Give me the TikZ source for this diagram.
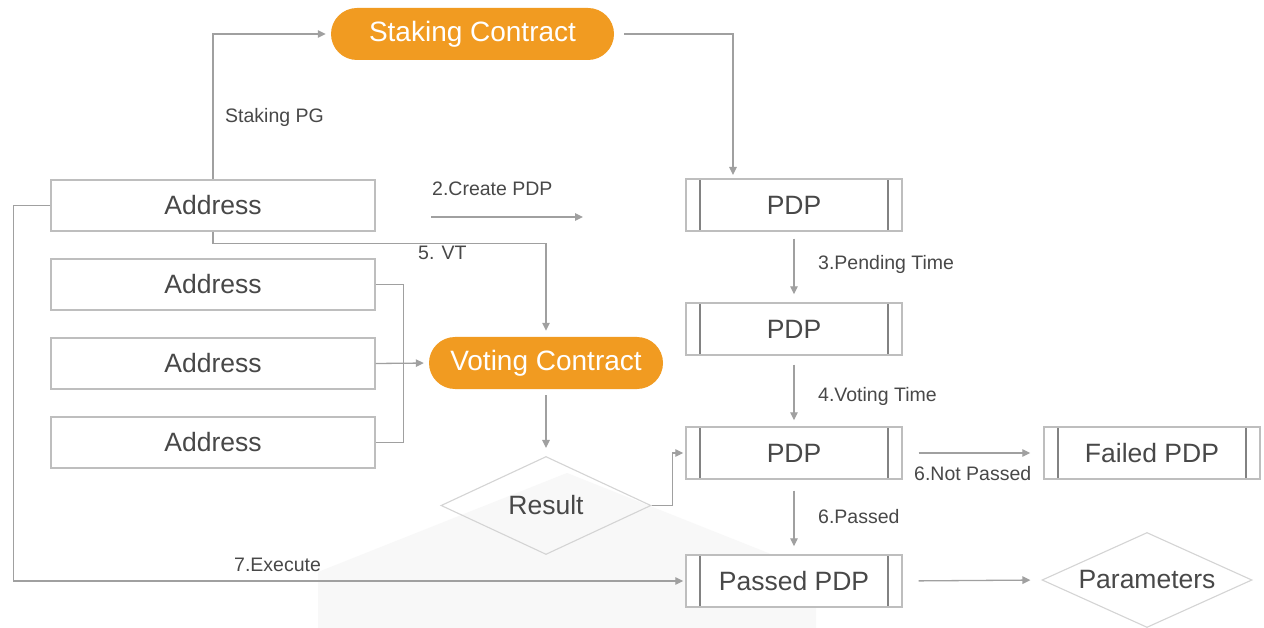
\documentclass[tikz,border=0pt]{standalone}
\usepackage{fontspec}
\setmainfont{Liberation Sans}
\usetikzlibrary{arrows.meta,shapes.geometric}
\definecolor{orng}{RGB}{241,155,33}
\definecolor{txt}{RGB}{72,72,72}
\definecolor{boxgray}{RGB}{190,190,190}
\definecolor{innergray}{RGB}{130,130,130}
\definecolor{linegray}{RGB}{160,160,160}
\definecolor{diagray}{RGB}{212,212,212}
\definecolor{bghex}{RGB}{248,248,248}
\newcommand{\bigfont}{\fontsize{26.5}{31}\selectfont}
\newcommand{\pillfont}{\fontsize{28}{33}\selectfont}
\newcommand{\smallfont}{\fontsize{19.5}{23}\selectfont}
\tikzset{
  addr/.style={draw=boxgray, fill=white, line width=1.4pt, minimum width=324pt, minimum height=51pt, inner sep=0pt, font=\bigfont, text=txt},
  pdpbox/.style={draw=boxgray, fill=white, line width=1.4pt, minimum width=216pt, minimum height=52pt, inner sep=0pt, font=\bigfont, text=txt,
    path picture={
      \draw[innergray, line width=1.1pt] ([xshift=14pt]path picture bounding box.north west) -- ([xshift=14pt]path picture bounding box.south west);
      \draw[innergray, line width=1.1pt] ([xshift=-14pt]path picture bounding box.north east) -- ([xshift=-14pt]path picture bounding box.south east);
    }},
  pill/.style={fill=orng, rounded corners=26pt, minimum height=52pt, inner sep=0pt, font=\pillfont, text=white},
  dia/.style={diamond, draw=diagray, line width=1.1pt, minimum width=210pt, minimum height=98pt, inner sep=0pt},
  dialbl/.style={font=\bigfont, text=txt, inner sep=0pt},
  conn/.style={draw=linegray, line width=1.3pt, -{Triangle[length=8pt,width=7.5pt]}},
  plain/.style={draw=linegray, line width=1.3pt},
  lbl/.style={anchor=base west, font=\smallfont, text=txt, inner sep=0pt}
}
\begin{document}
\begin{tikzpicture}[x=1pt,y=-1pt]
\useasboundingbox[fill=white] (0,0) rectangle (1264,628);
% faint background shape
\fill[bghex] (318,628) -- (318,572) -- (567,473) -- (816,572) -- (816,628) -- cycle;
% nodes
\node[pill, minimum width=283pt] (sc) at (472.5,34) {Staking Contract};
\node[addr] (a1) at (213,205.5) {Address};
\node[addr] (a2) at (213,284.5) {Address};
\node[addr] (a3) at (213,363.5) {Address};
\node[addr] (a4) at (213,442.5) {Address};
\node[pill, minimum width=234pt] (vc) at (546,363) {Voting Contract};
\node[dia] (res) at (546,505.5) {};
\node[dialbl] (rest) at (res.center) {Result};
\node[pdpbox] (p1) at (794,205) {PDP};
\node[pdpbox] (p2) at (794,329) {PDP};
\node[pdpbox] (p3) at (794,453) {PDP};
\node[pdpbox] (pp) at (794,581) {Passed PDP};
\node[pdpbox] (fp) at (1152,453) {Failed PDP};
\node[dia, minimum height=95pt] (par) at (1147,580) {};
\node[dialbl] (part) at (par.center) {Parameters};
% coordinates
\coordinate (k2) at (733,179);
\coordinate (c1) at (431,217);
\coordinate (c2) at (583,217);
% connectors
\draw[conn, shorten >=5pt] (a1.north) |- (sc.west);
\draw[conn, shorten <=10pt, shorten >=4pt] (sc.east) -| (k2);
\draw[conn] (c1) -- (c2);
\draw[conn, shorten >=6pt] (a1.south) -- ++(0,11.5) -| (vc.north);
\draw[plain] (a2.east) -- ++(27.5,0) |- (a4.east);
\draw[conn, shorten >=5pt] (a3.east) -- (vc.west);
\draw[conn, shorten <=6pt, shorten >=8pt] (vc.south) -- (res.north);
\draw[conn, shorten >=2pt] (res.east) -- ++(21,0) |- (p3.west);
\draw[conn, shorten <=7pt, shorten >=8pt] (p1.south) -- (p2.north);
\draw[conn, shorten <=9pt, shorten >=6pt] (p2.south) -- (p3.north);
\draw[conn, shorten <=11pt, shorten >=8pt] (p3.south) -- (pp.north);
\draw[conn, shorten <=16pt, shorten >=13pt] (p3.east) -- (fp.west);
\draw[conn, shorten <=16pt, shorten >=11pt] (pp.east) -- (par.west);
\draw[conn, shorten >=2pt] (a1.west) -- ++(-37,0) |- (pp.west);
% labels
\node[lbl] (l1) at (225,123) {Staking PG};
\node[lbl] (l2) at (432,196) {2.Create PDP};
\node[lbl] (l5) at (418,260) {5. VT};
\node[lbl] (l3) at (818,270) {3.Pending Time};
\node[lbl] (l4) at (818,401) {4.Voting Time};
\node[lbl] (l6) at (914,480) {6.Not Passed};
\node[lbl] (l7) at (818,523) {6.Passed};
\node[lbl] (l8) at (234,571) {7.Execute};
\end{tikzpicture}
\end{document}
